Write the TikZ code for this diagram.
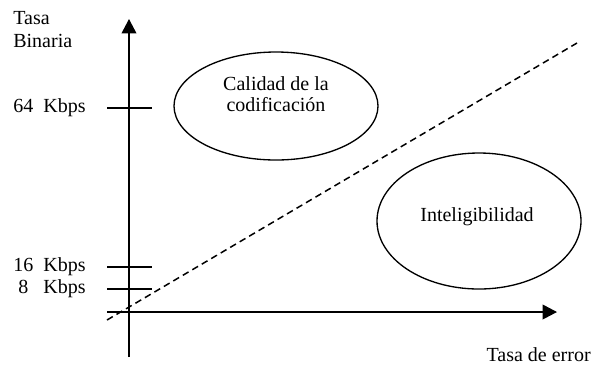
\documentclass[tikz,border=0pt]{standalone}
\usepackage{fontspec}
\setmainfont{Liberation Serif}
\usetikzlibrary{shapes.geometric,arrows.meta}
\begin{document}
\begin{tikzpicture}[x=0.6pt,y=-0.6pt,
  every node/.style={font=\fontsize{12}{14}\selectfont},
  axisline/.style={line width=0.9pt,-{Triangle[length=8.6pt,width=8.8pt]}},
  tickline/.style={line width=0.9pt},
  blob/.style={draw,ellipse,line width=0.8pt,inner sep=0pt,align=center},
  lbl/.style={anchor=west,inner sep=0pt}]
\useasboundingbox (0,0) rectangle (593,364);
% axes
\coordinate (ybot) at (129,357);
\coordinate (ytop) at (129,19);
\coordinate (xleft) at (107,312);
\coordinate (xright) at (557,312);
\draw[axisline] (ybot) -- (ytop);
\draw[axisline] (xleft) -- (xright);
% ticks
\coordinate (t64a) at (107,108); \coordinate (t64b) at (152,108);
\coordinate (t16a) at (107,267); \coordinate (t16b) at (152,267);
\coordinate (t8a) at (107,289);  \coordinate (t8b) at (152,289);
\draw[tickline] (t64a) -- (t64b);
\draw[tickline] (t16a) -- (t16b);
\draw[tickline] (t8a) -- (t8b);
% dashed line
\coordinate (d1) at (107,320);
\coordinate (d2) at (577,43);
\draw[line width=0.9pt,dash pattern=on 4pt off 2.6pt] (d1) -- (d2);
% ellipses
\node[blob,minimum width=122.4pt,minimum height=64.8pt] (cal) at (276,106) {};
\node (caltext) at (276,94) [align=center,inner sep=0pt] {Calidad de la\\[-1pt]codificación};
\node[blob,minimum width=122.4pt,minimum height=81.6pt] (int) at (479,221) {};
\node (inttext) at (477,217) {Inteligibilidad};
% labels
\node[lbl] (tasa) at (13,18) {Tasa};
\node[lbl] (bin) at (13,41) {Binaria};
\node[lbl] (l64) at (13,108) {64\hspace{6pt}Kbps};
\node[lbl] (l16) at (13,267) {16\hspace{6pt}Kbps};
\node[lbl] (l8) at (18,289) {8\hspace{9pt}Kbps};
\node[anchor=east,inner sep=0pt] (err) at (591,355) {Tasa de error};
\end{tikzpicture}
\end{document}
